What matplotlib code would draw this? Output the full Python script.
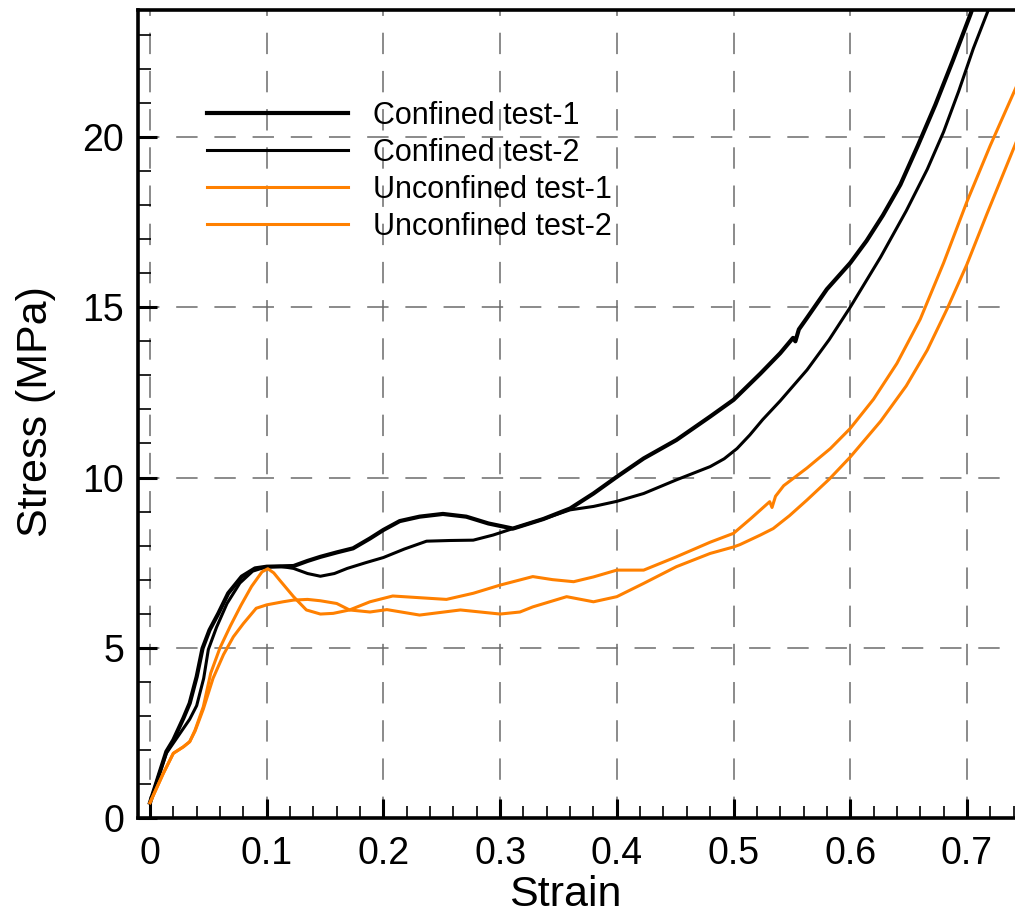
import matplotlib
matplotlib.use("Agg")
import matplotlib.pyplot as plt
from matplotlib.ticker import MultipleLocator

plt.rcParams['font.family'] = ['Liberation Sans', 'DejaVu Sans']

# Stress-strain curves (strain [-], stress [MPa])
confined1_strain = [0.0, 0.007, 0.014, 0.020, 0.0286, 0.034, 0.040, 0.0450, 0.051, 0.0586,
                    0.067, 0.0786, 0.090, 0.100, 0.112, 0.123, 0.135, 0.146, 0.160, 0.174,
                    0.1885, 0.200, 0.214, 0.231, 0.251, 0.271, 0.290, 0.311, 0.337, 0.360,
                    0.380, 0.400, 0.423, 0.451, 0.480, 0.500, 0.523, 0.540, 0.551, 0.553,
                    0.556, 0.563, 0.580, 0.600, 0.614, 0.628, 0.643, 0.658, 0.673, 0.688,
                    0.703, 0.712]
confined1_stress = [0.45, 1.2, 1.95, 2.29, 2.93, 3.37, 4.15, 4.98, 5.52, 6.01,
                    6.6, 7.09, 7.33, 7.38, 7.39, 7.40, 7.55, 7.67, 7.80, 7.92,
                    8.21, 8.46, 8.72, 8.85, 8.93, 8.85, 8.65, 8.50, 8.78, 9.09,
                    9.53, 10.02, 10.56, 11.10, 11.79, 12.28, 13.05, 13.65, 14.10, 14.00,
                    14.35, 14.69, 15.53, 16.30, 16.95, 17.70, 18.60, 19.75, 20.95, 22.25,
                    23.6, 24.5]

confined2_strain = [0.0, 0.007, 0.014, 0.022, 0.034, 0.040, 0.046, 0.050, 0.057, 0.066,
                    0.077, 0.088, 0.100, 0.112, 0.123, 0.135, 0.146, 0.158, 0.169, 0.185,
                    0.200, 0.218, 0.237, 0.257, 0.277, 0.294, 0.311, 0.337, 0.360, 0.380,
                    0.400, 0.423, 0.451, 0.480, 0.492, 0.503, 0.514, 0.525, 0.540, 0.563,
                    0.582, 0.600, 0.626, 0.648, 0.666, 0.680, 0.693, 0.7055, 0.718, 0.726]
confined2_stress = [0.45, 1.2, 1.9, 2.3, 2.9, 3.3, 4.1, 4.95, 5.6, 6.3,
                    6.9, 7.25, 7.38, 7.39, 7.33, 7.18, 7.10, 7.18, 7.33, 7.50,
                    7.65, 7.90, 8.13, 8.15, 8.16, 8.31, 8.50, 8.78, 9.05, 9.15,
                    9.30, 9.53, 9.93, 10.32, 10.55, 10.85, 11.25, 11.70, 12.25, 13.16,
                    14.05, 15.0, 16.47, 17.83, 19.05, 20.15, 21.35, 22.6, 23.7, 24.5]

unconfined1_strain = [0.0, 0.0114, 0.020, 0.0286, 0.034, 0.0386, 0.0457, 0.052, 0.060, 0.069,
                      0.078, 0.087, 0.096, 0.101, 0.106, 0.111, 0.123, 0.134, 0.146, 0.157,
                      0.171, 0.1885, 0.208, 0.231, 0.254, 0.277, 0.300, 0.328, 0.345, 0.363,
                      0.380, 0.400, 0.423, 0.451, 0.480, 0.500, 0.515, 0.531, 0.533, 0.536,
                      0.543, 0.563, 0.583, 0.600, 0.620, 0.640, 0.660, 0.680, 0.700, 0.720,
                      0.742]
unconfined1_stress = [0.45, 1.31, 1.9, 2.09, 2.24, 2.58, 3.27, 4.25, 5.0, 5.65,
                      6.25, 6.8, 7.23, 7.32, 7.2, 6.99, 6.5, 6.11, 5.99, 6.01,
                      6.11, 6.35, 6.52, 6.47, 6.42, 6.6, 6.84, 7.09, 7.0, 6.94,
                      7.08, 7.28, 7.28, 7.67, 8.1, 8.36, 8.8, 9.29, 9.12, 9.45,
                      9.76, 10.28, 10.85, 11.44, 12.30, 13.35, 14.65, 16.3, 18.1, 19.75,
                      21.45]

unconfined2_strain = [0.0, 0.0114, 0.020, 0.0286, 0.034, 0.0386, 0.0457, 0.054, 0.063, 0.0714,
                      0.080, 0.091, 0.100, 0.114, 0.123, 0.135, 0.146, 0.160, 0.171, 0.1885,
                      0.203, 0.231, 0.266, 0.300, 0.317, 0.328, 0.357, 0.380, 0.400, 0.423,
                      0.451, 0.480, 0.500, 0.5056, 0.523, 0.534, 0.548, 0.563, 0.582, 0.600,
                      0.626, 0.648, 0.666, 0.683, 0.700, 0.717, 0.742]
unconfined2_stress = [0.45, 1.31, 1.9, 2.09, 2.24, 2.55, 3.2, 4.1, 4.8, 5.32,
                      5.71, 6.16, 6.26, 6.35, 6.40, 6.42, 6.38, 6.3, 6.11, 6.05,
                      6.12, 5.96, 6.11, 5.99, 6.05, 6.2, 6.5, 6.35, 6.5, 6.89,
                      7.38, 7.77, 7.96, 8.03, 8.31, 8.5, 8.88, 9.34, 9.95, 10.6,
                      11.65, 12.69, 13.74, 14.95, 16.26, 17.73, 19.83]

series_labels = ['Confined test-1', 'Confined test-2', 'Unconfined test-1', 'Unconfined test-2']

x_ticks = [0, 0.1, 0.2, 0.3, 0.4, 0.5, 0.6, 0.7]
x_tick_labels = ['0', '0.1', '0.2', '0.3', '0.4', '0.5', '0.6', '0.7']
y_ticks = [0, 5, 10, 15, 20]
y_tick_labels = ['0', '5', '10', '15', '20']

ORANGE = '#ff8000'

fig = plt.figure(figsize=(10.15, 9.13), dpi=100)
ax = fig.add_axes([138 / 1015, 95 / 913, 877 / 1015, 808 / 913])

ax.plot(confined1_strain, confined1_stress, color='black', lw=3.0,
        solid_joinstyle='round', label=series_labels[0], zorder=3)
ax.plot(confined2_strain, confined2_stress, color='black', lw=2.2,
        solid_joinstyle='round', label=series_labels[1], zorder=3)
ax.plot(unconfined1_strain, unconfined1_stress, color=ORANGE, lw=2.2,
        solid_joinstyle='round', label=series_labels[2], zorder=4)
ax.plot(unconfined2_strain, unconfined2_stress, color=ORANGE, lw=2.2,
        solid_joinstyle='round', label=series_labels[3], zorder=4)

ax.set_xlim(-0.01028, 0.7412)
ax.set_ylim(0, 23.73)

ax.set_xticks(x_ticks, x_tick_labels)
ax.set_yticks(y_ticks, y_tick_labels)
ax.xaxis.set_minor_locator(MultipleLocator(0.02))
ax.yaxis.set_minor_locator(MultipleLocator(1))

ax.tick_params(which='major', direction='in', length=14, width=2.2,
               labelsize=27, top=False, right=False)
ax.tick_params(axis='x', which='major', pad=13)
ax.tick_params(axis='y', which='major', pad=10)
ax.tick_params(which='minor', direction='in', length=9, width=1.2,
               top=False, right=False)

for side in ('left', 'bottom', 'top'):
    ax.spines[side].set_linewidth(2.6)
ax.spines['right'].set_visible(False)

ax.grid(True, which='major', color='#6b6b6b', linestyle=(0, (14, 11)), linewidth=1.1)
ax.set_axisbelow(True)

ax.set_xlabel('Strain', fontsize=31)
ax.xaxis.set_label_coords((565 - 138) / 877, -0.0705)
ax.set_ylabel('Stress (MPa)', fontsize=31)
ax.yaxis.set_label_coords(-0.094, 0.5025)

ax.legend(loc='upper left', bbox_to_anchor=(207 / 1015, 1 - 101 / 913),
          bbox_transform=fig.transFigure, frameon=False, fontsize=22,
          handlelength=4.6, handletextpad=0.82, labelspacing=0.23,
          borderpad=0, borderaxespad=0)

fig.savefig('out.png', dpi=100)
